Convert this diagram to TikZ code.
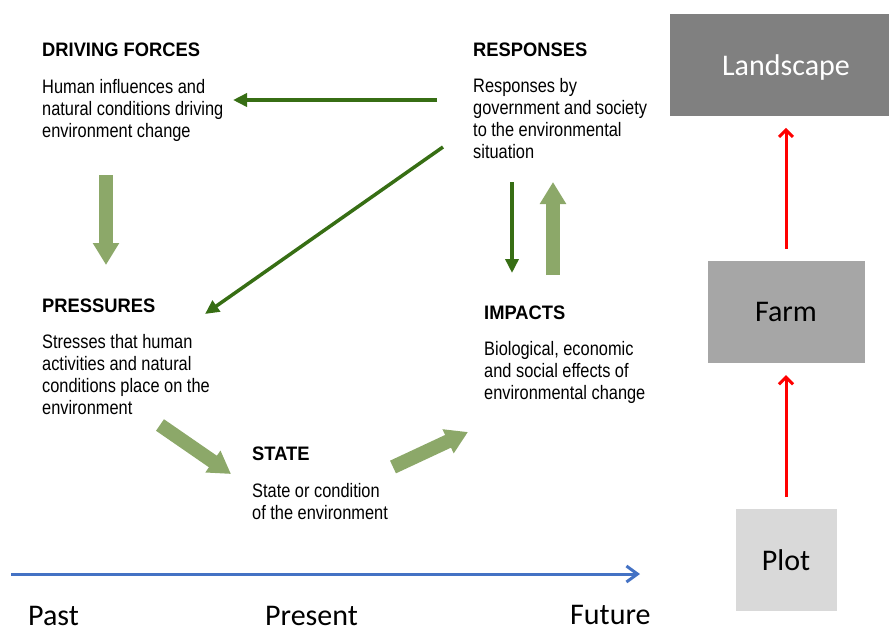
\documentclass[tikz,border=0pt]{standalone}
\usepackage{fontspec}
\newfontfamily\bodyfont{Liberation Sans}[FakeStretch=0.84]
\newfontfamily\headfont{Liberation Sans}[FakeStretch=0.94]
\newfontfamily\calibri{Carlito}
\usetikzlibrary{positioning, arrows.meta}

\definecolor{darkgreen}{RGB}{55,110,20}
\definecolor{palegreen}{RGB}{140,168,105}
\definecolor{timeblue}{RGB}{68,114,196}
\definecolor{scalered}{RGB}{255,0,0}

\tikzset{
    heading/.style={inner sep=0pt, anchor=base west, font=\headfont\bfseries\fontsize{19.5}{22}\selectfont},
    body/.style={inner sep=0pt, align=left, font=\bodyfont\fontsize{19.5}{22}\selectfont},
    thinarrow/.style={draw=darkgreen, line width=3.5pt, -{Triangle[length=14pt,width=13pt]}},
    bigarrow/.style={draw=palegreen, line width=14pt, -{Triangle[length=22pt,width=25pt]}},
    scalebox/.style={inner sep=0pt, text depth=0pt, minimum height=102pt, font=\calibri\fontsize{30}{36}\selectfont},
    scalearrow/.style={draw=scalered, line width=3pt, -{Straight Barb[length=7pt,width=14pt]}, shorten <=12pt, shorten >=12pt},
    timelabel/.style={inner sep=0pt, anchor=base west, font=\calibri\fontsize{30}{36}\selectfont},
}

\begin{document}
\begin{tikzpicture}[x=1pt, y=-1pt]
    \useasboundingbox (0,0) rectangle (889,632);

    % DPSIR blocks
    \node[heading] (drive) at (42,56.7) {DRIVING FORCES};
    \node[body, below=22.5pt of drive.base west, anchor=north west] (drivetext) {Human influences and\\natural conditions driving\\environment change};

    \node[heading] (resp) at (473,56) {RESPONSES};
    \node[body, below=22.5pt of resp.base west, anchor=north west] (resptext) {Responses by\\government and society\\to the environmental\\situation};

    \node[heading] (press) at (42,312) {PRESSURES};
    \node[body, below=22.5pt of press.base west, anchor=north west] (presstext) {Stresses that human\\activities and natural\\conditions place on the\\environment};

    \node[heading] (state) at (252,460.7) {STATE};
    \node[body, below=22.5pt of state.base west, anchor=north west] (statetext) {State or condition\\of the environment};

    \node[heading] (imp) at (484,319) {IMPACTS};
    \node[body, below=22.5pt of imp.base west, anchor=north west] (imptext) {Biological, economic\\and social effects of\\environmental change};

    % arrow ends
    \coordinate (resp-left) at (437,100);
    \coordinate (drive-right) at (233,100);
    \coordinate (resp-diag) at (443,147);
    \coordinate (press-diag) at (205,314);
    \coordinate (resp-down) at (512,182);
    \coordinate (imp-up) at (512,273);
    \coordinate (imp-top) at (553,275);
    \coordinate (resp-bottom) at (553,182);
    \coordinate (drive-down) at (106,175);
    \coordinate (press-top) at (106,265);
    \coordinate (press-out) at (160,425);
    \coordinate (state-in) at (231,474);
    \coordinate (state-out) at (393,467);
    \coordinate (imp-in) at (468,432);

    \draw[thinarrow] (resp-left) -- (drive-right);
    \draw[thinarrow] (resp-diag) -- (press-diag);
    \draw[thinarrow] (resp-down) -- (imp-up);
    \draw[bigarrow] (imp-top) -- (resp-bottom);
    \draw[bigarrow] (drive-down) -- (press-top);
    \draw[bigarrow] (press-out) -- (state-in);
    \draw[bigarrow] (state-out) -- (imp-in);

    % time line
    \coordinate (timestart) at (11,574);
    \coordinate (timeend) at (640,574);
    \draw[draw=timeblue, line width=3pt, -{Straight Barb[length=11pt,width=16pt]}] (timestart) -- (timeend);
    \node[timelabel] (past) at (28,625) {Past};
    \node[timelabel] (present) at (265,625) {Present};
    \node[timelabel] (future) at (570,624) {Future};

    % spatial scales
    \node[scalebox, fill=black!35, minimum width=157pt] (farm) at (786,312) {Farm};
    \node[scalebox, fill=black!50, text=white, minimum width=232pt, above=145pt of farm] (landscape) {Landscape};
    \node[scalebox, fill=black!15, minimum width=101pt, below=146pt of farm] (plot) {Plot};

    \draw[scalearrow] (farm) -- (landscape);
    \draw[scalearrow] (plot) -- (farm);
\end{tikzpicture}
\end{document}
